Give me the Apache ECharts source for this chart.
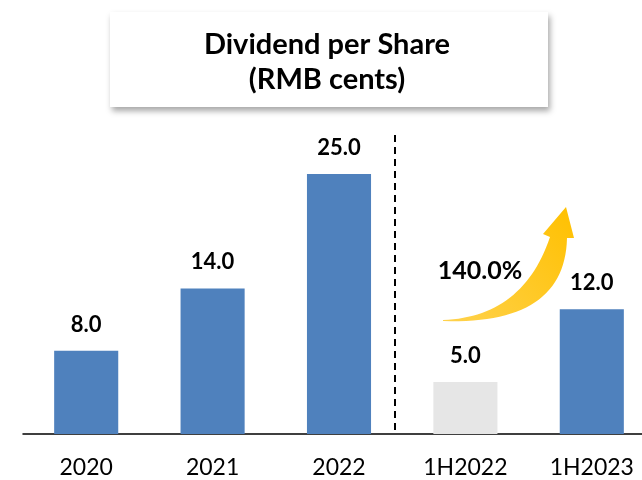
<!DOCTYPE html>
<html>
<head>
<meta charset="utf-8">
<script src="https://cdn.jsdelivr.net/npm/echarts@6/dist/echarts.min.js"></script>
<style>html,body{margin:0;padding:0;background:#fff;overflow:hidden;width:642px;height:480px}#c{width:660px;height:480px}</style>
</head>
<body>
<div id="c"></div>
<script>
const categories = ['2020', '2021', '2022', '1H2022', '1H2023'];
const values = [8.0, 14.0, 25.0, 5.0, 12.0];
const barColors = ['#4f81bd', '#4f81bd', '#4f81bd', '#e6e6e6', '#4f81bd'];
const growthLabel = '140.0%';
const titleLines = ['Dividend per Share', '(RMB cents)'];

const FONT = 'Lato, "Open Sans", sans-serif';

// curved arrow outline (decoration) built from two quadratic curves
function quad(p0, c, p1, n) {
  const pts = [];
  for (let i = 0; i <= n; i++) {
    const t = i / n, u = 1 - t;
    pts.push([u * u * p0[0] + 2 * u * t * c[0] + t * t * p1[0], u * u * p0[1] + 2 * u * t * c[1] + t * t * p1[1]]);
  }
  return pts;
}
const arrowPts = [].concat(
  quad([443, 320], [523, 317], [550, 237], 30),
  [[543, 234], [566, 207], [574, 238]],
  quad([567, 238], [565, 325], [443, 321], 30)
);

const chart = echarts.init(document.getElementById('c'), null, {renderer: 'canvas'});
chart.setOption({
  animation: false,
  backgroundColor: '#fff',
  grid: {left: 23, right: 5, top: 122, bottom: 46, containLabel: false},
  xAxis: {
    type: 'category',
    data: categories,
    axisLine: {lineStyle: {color: '#000', width: 1.5}},
    axisTick: {show: false},
    axisLabel: {color: '#000', fontSize: 23, fontFamily: FONT, margin: 22}
  },
  yAxis: {
    type: 'value', min: 0, max: 30,
    show: false,
    splitLine: {show: false}
  },
  series: [{
    type: 'bar',
    barWidth: '50.7%',
    data: values.map((v, i) => ({value: v, itemStyle: {color: barColors[i]}})),
    label: {
      show: true, position: 'top', distance: 15,
      color: '#000', fontSize: 22, fontWeight: 'bold', fontFamily: FONT,
      formatter: p => p.value.toFixed(1)
    }
  }],
  graphic: [
    {
      type: 'rect', shape: {x: 110, y: 12, width: 438, height: 95},
      style: {fill: '#fff', shadowBlur: 6, shadowOffsetX: 2, shadowOffsetY: 4, shadowColor: 'rgba(0,0,0,0.35)'}
    },
    {
      type: 'text', x: 327, y: 45,
      style: {text: titleLines[0], fill: '#000', font: 'bold 29px ' + FONT, align: 'center', verticalAlign: 'middle'}
    },
    {
      type: 'text', x: 327, y: 80,
      style: {text: titleLines[1], fill: '#000', font: 'bold 29px ' + FONT, align: 'center', verticalAlign: 'middle'}
    },
    {
      type: 'line', shape: {x1: 395, y1: 135, x2: 395, y2: 433},
      style: {stroke: '#000', lineWidth: 2, lineDash: [7, 5]}
    },
    {
      type: 'polygon',
      shape: {points: arrowPts},
      style: {
        fill: {type: 'linear', x: 0, y: 1, x2: 1, y2: 0, colorStops: [
          {offset: 0, color: '#ffd24d'}, {offset: 1, color: '#ffc000'}
        ]}
      }
    },
    {
      type: 'text', x: 480, y: 271,
      style: {text: growthLabel, fill: '#000', font: 'bold 25px ' + FONT, align: 'center', verticalAlign: 'middle'}
    }
  ]
});
</script>
</body>
</html>
